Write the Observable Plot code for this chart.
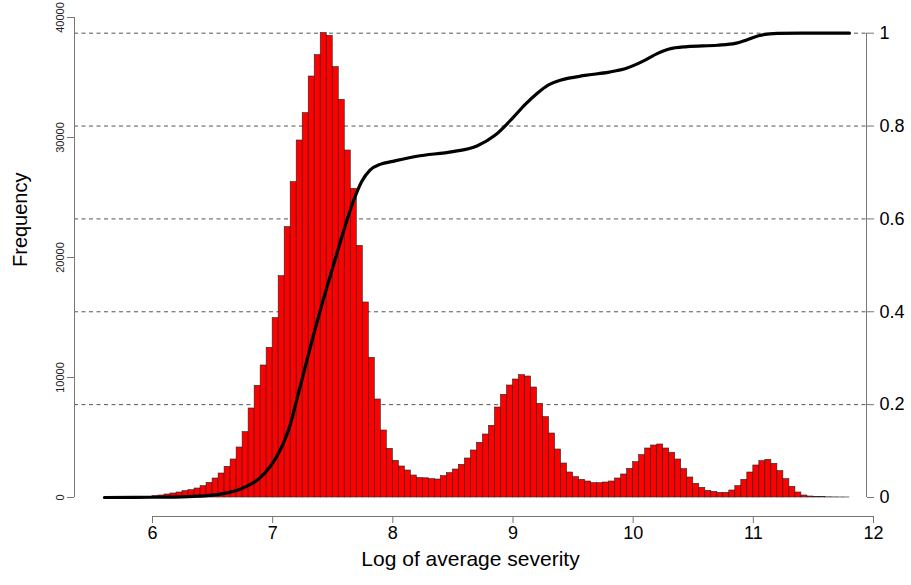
<!DOCTYPE html>
<html><head><meta charset="utf-8">
<script src="https://cdn.jsdelivr.net/npm/d3@7"></script>
<script src="https://cdn.jsdelivr.net/npm/@observablehq/plot@0.6"></script>
<style>html,body{margin:0;padding:0;background:#fff;} svg{display:block}</style>
</head><body><div id="chart"></div>
<script>
// Histogram bins: first bin starts at 5.6, width 0.05
const binStart = 5.6;
const binWidth = 0.05;
const counts = [
  2, 3, 5, 8, 12, 20, 35, 60,
  110, 167, 250, 333, 417, 528, 611, 750, 944, 1222,
  1583, 2000, 2556, 3167, 4167, 5444, 7417, 9306, 11000, 12472,
  14944, 18444, 22528, 26278, 29750, 32028, 35083, 36861, 38694, 38472,
  35861, 33139, 28917, 25722, 20972, 16250, 11639, 8167, 5583, 4056,
  3050, 2583, 2250, 1833, 1620, 1600, 1528, 1500, 1778, 2028,
  2333, 2722, 3250, 3917, 4556, 5250, 5972, 7500, 8556, 9333,
  9833, 10194, 10083, 9167, 7806, 6694, 5333, 4000, 2833, 2083,
  1694, 1472, 1333, 1194, 1194, 1250, 1333, 1583, 1917, 2389,
  2944, 3528, 4083, 4333, 4417, 4083, 3722, 3167, 2361, 1667,
  1139, 806, 556, 472, 389, 389, 583, 944, 1472, 2083,
  2667, 3028, 3139, 2806, 2194, 1528, 889, 417, 167, 83,
  55, 30, 15, 8, 4, 2
];

// Cumulative curve (right axis, 0..1)
const cdfX = [5.6, 6.0, 6.3, 6.5, 6.6, 6.7, 6.8, 6.87, 6.95, 7.02, 7.09, 7.15, 7.2, 7.26, 7.34, 7.42, 7.5, 7.58, 7.67, 7.74, 7.81, 7.9, 8.0, 8.2, 8.5, 8.7, 8.85, 9.0, 9.1, 9.2, 9.3, 9.4, 9.6, 9.8, 9.95, 10.1, 10.2, 10.3, 10.45, 10.7, 10.85, 10.95, 11.05, 11.2, 11.4, 11.8];
const cdfY = [0, 0.0005, 0.002, 0.005, 0.009, 0.015, 0.026, 0.037, 0.057, 0.082, 0.117, 0.16, 0.21, 0.27, 0.35, 0.425, 0.495, 0.565, 0.637, 0.68, 0.705, 0.718, 0.724, 0.735, 0.745, 0.757, 0.78, 0.818, 0.846, 0.87, 0.889, 0.899, 0.909, 0.916, 0.925, 0.942, 0.956, 0.966, 0.971, 0.974, 0.978, 0.986, 0.995, 0.9995, 1, 1];

const xTicks = [6, 7, 8, 9, 10, 11, 12];
const yTicks = [0, 10000, 20000, 30000, 40000];
const rightTicks = [0, 0.2, 0.4, 0.6, 0.8, 1];
const gridLevels = [0.2, 0.4, 0.6, 0.8, 1];

const xLabel = "Log of average severity";
const yLabel = "Frequency";

const bins = counts.map((c, i) => ({x1: binStart + i * binWidth, x2: binStart + (i + 1) * binWidth, count: c}));
const K = d3.max(counts); // right-axis 1 corresponds to the tallest bar
const cdf = cdfX.map((x, i) => ({x, y: cdfY[i] * K}));
const axisColor = "#777";

const plot = Plot.plot({
  width: 911, height: 585,
  marginLeft: 74, marginRight: 45, marginTop: 17, marginBottom: 69,
  x: {domain: [6, 12], range: [152, 873]},
  y: {domain: [0, 40000], range: [497, 17]},
  style: {fontFamily: "'Liberation Sans', Arial, Helvetica, sans-serif", color: "#000", background: "#fff"},
  marks: [
    Plot.ruleY(gridLevels.map(v => v * K), {stroke: "#555", strokeDasharray: "4,3.5", strokeWidth: 1}),
    Plot.rectY(bins, {x1: "x1", x2: "x2", y: "count", fill: "#ff0000", stroke: "#222", strokeWidth: 0.6, inset: 0}),
    Plot.line(cdf, {x: "x", y: "y", stroke: "#000", strokeWidth: 3.2, curve: "monotone-x"}),
    // left axis
    Plot.ruleX([6], {y1: 0, y2: 40000, dx: -78, stroke: axisColor}),
    Plot.axisY({anchor: "left", ticks: yTicks, tickFormat: d => String(d), tickSize: 7, tickRotate: -90, tickPadding: 4, fontSize: 11, label: null, stroke: axisColor, fill: "#222"}),
    // right axis
    Plot.ruleX([12], {y1: 0, y2: K, dx: -7, stroke: axisColor}),
    Plot.axisY({anchor: "right", ticks: rightTicks.map(v => v * K), tickFormat: d => String(Math.round(d / K * 10) / 10), tickSize: 7, tickPadding: 6, fontSize: 18, label: null, stroke: axisColor, fill: "#000"}),
    // bottom axis
    Plot.ruleY([0], {x1: d3.min(xTicks), x2: d3.max(xTicks), dy: 19, stroke: axisColor}),
    Plot.axisX({anchor: "bottom", ticks: xTicks, tickFormat: d => String(d), tickSize: 7, tickPadding: 3, fontSize: 18, label: null, stroke: axisColor, fill: "#000"}),
    // titles
    Plot.text([yLabel], {frameAnchor: "left", dx: -54, rotate: -90, fontSize: 20, fill: "#000"}),
    Plot.text([xLabel], {frameAnchor: "bottom", dy: 49, fontSize: 21, fill: "#000"})
  ]
});
document.getElementById("chart").appendChild(plot);
</script>
</body></html>
